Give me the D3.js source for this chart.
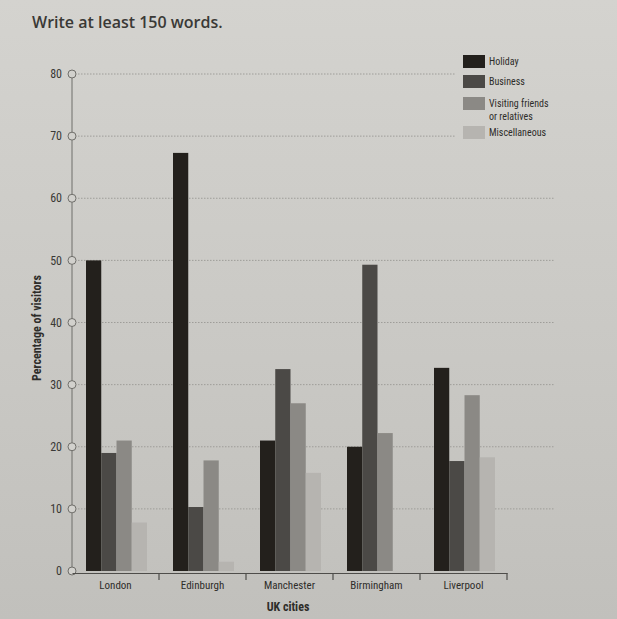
<!DOCTYPE html>
<html>
<head>
<meta charset="utf-8">
<script src="https://cdn.jsdelivr.net/npm/d3@7"></script>
<style>
  body { margin: 0; background: #cdccc8; }
  svg { display: block; }
</style>
</head>
<body>
<svg id="chart"></svg>
<script>
var cities = ["London", "Edinburgh", "Manchester", "Birmingham", "Liverpool"];
var series = ["Holiday", "Business", "Visiting friends or relatives", "Miscellaneous"];
var holiday = [50, 67.3, 21, 20, 32.7];
var business = [19, 10.3, 32.5, 49.3, 17.7];
var visiting = [21, 17.8, 27, 22.2, 28.3];
var misc = [7.8, 1.5, 15.8, 0, 18.3];
var yTicks = [0, 10, 20, 30, 40, 50, 60, 70, 80];

var W = 617, H = 619;
var colors = ["#23201c", "#4b4946", "#8b8985", "#b6b4b0"];

var svg = d3.select("#chart").attr("width", W).attr("height", H);

var defs = svg.append("defs");
var grad = defs.append("linearGradient").attr("id", "bg").attr("x1", 0).attr("y1", 0).attr("x2", 0).attr("y2", 1);
grad.append("stop").attr("offset", "0%").attr("stop-color", "#d4d3cf");
grad.append("stop").attr("offset", "100%").attr("stop-color", "#c1c0bc");
svg.append("rect").attr("width", W).attr("height", H).attr("fill", "url(#bg)");

// title
svg.append("text")
  .attr("x", 32).attr("y", 28)
  .style("font-family", "'Open Sans', sans-serif")
  .style("font-weight", "600")
  .style("font-size", "16px")
  .attr("fill", "#3a3936")
  .text("Write at least 150 words.");

var x0 = d3.scaleBand().domain(cities).range([72, 507]);
var x1 = d3.scaleBand().domain(series).range([14, 75]);
var y = d3.scaleLinear().domain([0, 80]).range([571, 74]);

var font = "'Liberation Sans Narrow', 'Roboto Condensed', 'Liberation Sans', Arial, sans-serif";

// grid lines
svg.append("g").selectAll("line")
  .data(yTicks.filter(function(d) { return d > 0; }))
  .enter().append("line")
    .attr("x1", 78)
    .attr("x2", function(d) { return d >= 70 ? 455 : 555; })
    .attr("y1", function(d) { return y(d); })
    .attr("y2", function(d) { return y(d); })
    .attr("stroke", "#9e9d99")
    .attr("stroke-width", 1)
    .attr("stroke-dasharray", "1.5,1.5");

// bars
var rows = cities.map(function(c, i) {
  return { city: c, values: [holiday[i], business[i], visiting[i], misc[i]] };
});

var groups = svg.append("g").selectAll("g")
  .data(rows)
  .enter().append("g")
    .attr("transform", function(d) { return "translate(" + x0(d.city) + ",0)"; });

groups.selectAll("rect")
  .data(function(d) { return d.values.map(function(v, j) { return { key: series[j], value: v, j: j }; }); })
  .enter().append("rect")
    .attr("x", function(d) { return x1(d.key); })
    .attr("width", x1.bandwidth())
    .attr("y", function(d) { return y(d.value); })
    .attr("height", function(d) { return y(0) - y(d.value); })
    .attr("fill", function(d) { return colors[d.j]; });

// y axis with hollow circles
svg.append("line")
  .attr("x1", 72).attr("x2", 72)
  .attr("y1", y(80)).attr("y2", y(0))
  .attr("stroke", "#6f6e6a").attr("stroke-width", 1);

svg.append("g").selectAll("circle")
  .data(yTicks)
  .enter().append("circle")
    .attr("cx", 72)
    .attr("cy", function(d) { return y(d); })
    .attr("r", 4)
    .attr("fill", "#d2d1cd")
    .attr("stroke", "#6f6e6a")
    .attr("stroke-width", 1);

svg.append("g").selectAll("text")
  .data(yTicks)
  .enter().append("text")
    .attr("x", 62)
    .attr("y", function(d) { return y(d); })
    .attr("dy", "0.35em")
    .attr("text-anchor", "end")
    .style("font-family", font)
    .style("font-size", "12px")
    .attr("fill", "#3a3936")
    .text(function(d) { return d; });

svg.append("text")
  .attr("transform", "translate(41," + 328 + ") rotate(-90)")
  .attr("text-anchor", "middle")
  .style("font-family", font)
  .style("font-weight", "bold")
  .style("font-size", "12px")
  .attr("fill", "#2e2d2a")
  .text("Percentage of visitors");

// x axis
var xAxis = d3.axisBottom(x0).tickSize(0).tickSizeOuter(0);
var gx = svg.append("g")
  .attr("transform", "translate(0," + (y(0) + 2) + ")")
  .call(xAxis);
gx.select(".domain").attr("stroke", "#4e4d4a").attr("stroke-width", 1.2);
gx.selectAll(".tick text")
  .attr("dy", "0")
  .attr("y", 16)
  .style("font-family", font)
  .style("font-size", "11px")
  .attr("fill", "#2e2d2a");

gx.selectAll(".sep")
  .data(cities)
  .enter().append("line")
    .attr("class", "sep")
    .attr("x1", function(d) { return x0(d) + x0.bandwidth(); })
    .attr("x2", function(d) { return x0(d) + x0.bandwidth(); })
    .attr("y1", 0).attr("y2", 7)
    .attr("stroke", "#4e4d4a").attr("stroke-width", 1.2);

svg.append("text")
  .attr("x", 288).attr("y", 611)
  .attr("text-anchor", "middle")
  .style("font-family", font)
  .style("font-weight", "bold")
  .style("font-size", "12px")
  .attr("fill", "#2e2d2a")
  .text("UK cities");

// legend
var legendRows = [
  { name: ["Holiday"], y: 55 },
  { name: ["Business"], y: 75 },
  { name: ["Visiting friends", "or relatives"], y: 97 },
  { name: ["Miscellaneous"], y: 126 }
];
var legend = svg.append("g");
legendRows.forEach(function(r, i) {
  legend.append("rect")
    .attr("x", 463).attr("y", r.y)
    .attr("width", 22).attr("height", 13)
    .attr("fill", colors[i]);
  r.name.forEach(function(t, k) {
    legend.append("text")
      .attr("x", 489).attr("y", r.y + 10 + k * 13)
      .style("font-family", font)
      .style("font-size", "10px")
      .attr("fill", "#2e2d2a")
      .text(t);
  });
});
</script>
</body>
</html>
